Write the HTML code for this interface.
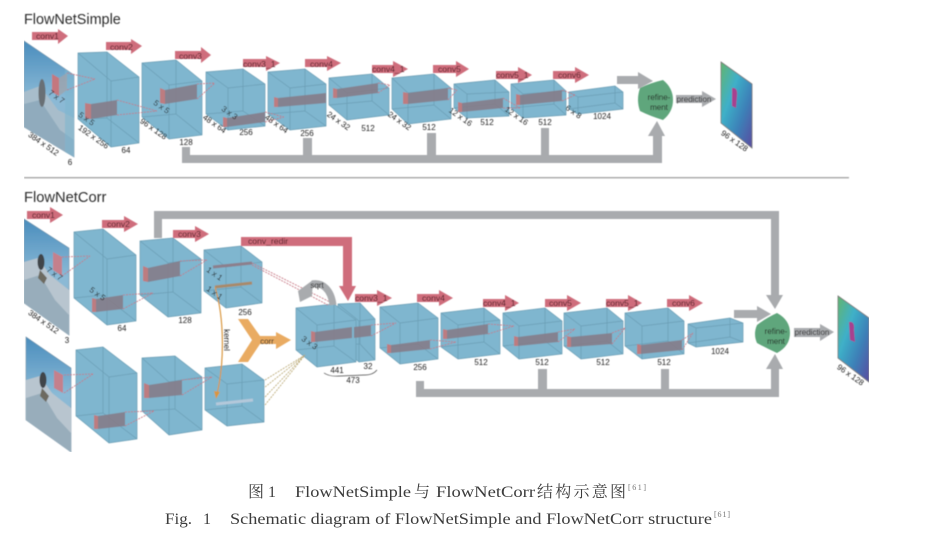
<!DOCTYPE html>
<html><head><meta charset="utf-8"><style>
html,body{margin:0;padding:0;background:#fff;width:925px;height:536px;overflow:hidden}
svg{display:block}
.c{fill:#7fb6cf;stroke:#6a9db4;stroke-width:.7}
.a{fill:#cf6d7c}
.g{fill:#a9abae}
.p{fill:#bd7b80}
.k{fill:#857c88;fill-opacity:.9}
.d{fill:none;stroke:#c4717e;stroke-width:.8;stroke-dasharray:2 1}
.t{fill:none;stroke:#b8a670;stroke-width:.8;stroke-dasharray:2 1}
text{font-family:"Liberation Sans",sans-serif}
.n text{font-size:8px;fill:#222;text-anchor:middle}
.ar text{font-size:8.6px;fill:#4f1c24}
.cap text{font-family:"Liberation Serif","Noto Serif CJK SC",serif;font-size:16px;fill:#3c3c3c}
.cap .s{font-size:8px;fill:#777}
</style></head><body>
<svg width="925" height="536" viewBox="0 0 925 536" xmlns="http://www.w3.org/2000/svg">
<defs>
<linearGradient id="sky" x1="0" y1="0" x2="0" y2="1"><stop offset="0" stop-color="#4a8dbd"/><stop offset=".5" stop-color="#8bbad6"/><stop offset="1" stop-color="#8fb2c9"/></linearGradient>
<linearGradient id="fl" x1="0" y1="0" x2="1" y2="1"><stop offset="0" stop-color="#62b56f"/><stop offset=".35" stop-color="#3fb0c8"/><stop offset=".65" stop-color="#3c82b8"/><stop offset="1" stop-color="#5a4ba0"/></linearGradient>
<filter id="b" x="0" y="0" width="100%" height="100%"><feGaussianBlur stdDeviation=".5"/></filter>
</defs>
<g filter="url(#b)">
<rect x="24" y="177" width="825" height="1.4" fill="#a8a8a8"/>

<path class="g" d="M182,147H190V155H303V138H312V155H427V133H436V155H541V128H549V155H653V136H648L657,121L665,136H662V163H182Z"/>
<path class="g" d="M617,76H638V72L653,81L638,89V84H617Z"/>
<path class="g" d="M676,95H702V91L716,99L702,107V103H676Z"/>
<path class="g" d="M154,238V211H779V295H783L775,309L766,295H771V219H162V238Z"/>
<path class="g" d="M416,381H424V389H538V369H547V389H661V369H669V389H771V369H766L775,354L783,369H779V397H416Z"/>
<path class="g" d="M734,310H757V306L771,314L757,322V318H734Z"/>
<path class="g" d="M794,328H820V324L834,332L820,341V337H794Z"/>

<!-- images -->
<path d="M24,41L74,75V157L24,127Z" fill="url(#sky)" stroke="#6f8fa5" stroke-width=".6"/>
<path d="M24,92L40,86L58,110L74,118V157L24,127Z" fill="#a8bdcb"/>
<path d="M24,104L40,100L60,130L74,140V157L24,127Z" fill="#90abbd"/>
<path d="M65,69L74,75V157L65,152Z" fill="#7fb6cf" fill-opacity=".6"/>
<ellipse cx="42" cy="93" rx="3.5" ry="14" fill="#697074"/>
<path d="M52,74L59,78V96L52,92Z" fill="#c4777e"/><path d="M59,78L67,73V90L59,96Z" fill="#9fa4ad" fill-opacity=".8"/>

<path d="M24,219L69,248V335L24,303Z" fill="url(#sky)" stroke="#6f8fa5" stroke-width=".6"/>
<path d="M24,262L38,258L50,275L69,290V335L24,303Z" fill="#b8c5cf"/>
<path d="M24,280L40,275L55,300L69,315V335L24,303Z" fill="#98adbb"/>
<ellipse cx="41" cy="262" rx="3.5" ry="8" fill="#40454a"/><path d="M40,270L47,278L44,284L38,278Z" fill="#6d6a60"/>
<path d="M53,252L62,257V276L53,270Z" fill="#c4808c"/>

<path d="M26,337L71,368V452L26,420Z" fill="url(#sky)" stroke="#6f8fa5" stroke-width=".6"/>
<path d="M26,380L40,376L52,393L71,408V452L26,420Z" fill="#b8c5cf"/>
<path d="M26,398L42,393L57,418L71,433V452L26,420Z" fill="#98adbb"/>
<ellipse cx="43" cy="380" rx="3.5" ry="8" fill="#40454a"/><path d="M42,388L49,396L46,402L40,396Z" fill="#6d6a60"/>
<path d="M54,370L63,375V393L54,388Z" fill="#c4808c"/>

<!-- cubes top -->
<path class="c" d="M78,53L107,52L139,77V143L111,147L78,119ZM78,53L111,81M111,81L139,77M111,81V147M107,52V118M107,118L78,119M107,118L139,143"/>
<path class="c" d="M142,63L176,60L202,81V135L169,139L142,117ZM142,63L169,85M169,85L202,81M169,85V139M176,60V114M176,114L142,117M176,114L202,135"/>
<path class="c" d="M206,72L243,69L265,84V126L228,130L206,114ZM206,72L228,88M228,88L265,84M228,88V130M243,69V111M243,111L206,114M243,111L265,126"/>
<path class="c" d="M268,72L305,69L326,84V126L290,130L268,114ZM268,72L290,88M290,88L326,84M290,88V130M305,69V111M305,111L268,114M305,111L326,126"/>
<path class="c" d="M329,78L372,74L389,88V115L347,120L329,105ZM329,78L347,93M347,93L389,88M347,93V120M372,74V101M372,101L329,105M372,101L389,115"/>
<path class="c" d="M392,78L434,74L451,88V119L408,124L392,109ZM392,78L408,93M408,93L451,88M408,93V124M434,74V105M434,105L392,109M434,105L451,119"/>
<path class="c" d="M454,84L495,80L509,92V116L467,118L454,108ZM454,84L467,94M467,94L509,92M467,94V118M495,80V104M495,104L454,108M495,104L509,116"/>
<path class="c" d="M511,84L554,80L566,91V115L523,118L511,108ZM511,84L523,94M523,94L566,91M523,94V118M554,80V104M554,104L511,108M554,104L566,115"/>
<path class="c" d="M569,92L615,86L623,92V109L578,114L569,109ZM569,92L578,97M578,97L623,92M578,97V114M615,86V103M615,103L569,109M615,103L623,109"/>

<!-- cubes bottom -->
<path class="c" d="M74,232L103,229L136,255V321L107,325L74,298ZM74,232L107,259M107,259L136,255M107,259V325M103,229V295M103,295L74,298M103,295L136,321"/>
<path class="c" d="M140,241L173,238L201,259V313L168,317L140,295ZM140,241L168,263M168,263L201,259M168,263V317M173,238V292M173,292L140,295M173,292L201,313"/>
<path class="c" d="M204,250L241,246L262,262V303L226,308L204,291ZM204,250L226,267M226,267L262,262M226,267V308M241,246V287M241,287L204,291M241,287L262,303"/>
<path class="c" d="M76,350L103,347L137,373V439L109,443L76,416ZM76,350L109,377M109,377L137,373M109,377V443M103,347V413M103,413L76,416M103,413L137,439"/>
<path class="c" d="M142,358L175,356L202,377V430L169,435L142,411ZM142,358L169,382M169,382L202,377M169,382V435M175,356V409M175,409L142,411M175,409L202,430"/>
<path class="c" d="M205,368L242,364L264,380V422L227,426L205,410ZM205,368L227,384M227,384L264,380M227,384V426M242,364V406M242,406L205,410M242,406L264,422"/>
<path class="c" d="M338,304L360,303L375,319V360L359,362L338,345ZM338,304L359,321M359,321L375,319M359,321V362M360,303V344M360,344L338,345M360,344L375,360"/>
<path class="c" d="M296,308L334,304L356,320V362L317,367L296,350ZM296,308L317,325M317,325L356,320M317,325V367M334,304V346M334,346L296,350M334,346L356,362"/>
<path class="c" d="M380,307L418,303L438,318V359L400,364L380,348ZM380,307L400,323M400,323L438,318M400,323V364M418,303V344M418,344L380,348M418,344L438,359"/>
<path class="c" d="M441,313L484,308L500,320V354L458,359L441,347ZM441,313L458,325M458,325L500,320M458,325V359M484,308V342M484,342L441,347M484,342L500,354"/>
<path class="c" d="M503,313L545,308L562,321V354L519,359L503,346ZM503,313L519,326M519,326L562,321M519,326V359M545,308V341M545,341L503,346M545,341L562,354"/>
<path class="c" d="M564,313L607,308L623,321V354L581,359L564,346ZM564,313L581,326M581,326L623,321M581,326V359M607,308V341M607,341L564,346M607,341L623,354"/>
<path class="c" d="M625,313L668,308L684,321V354L642,359L625,346ZM625,313L642,326M642,326L684,321M642,326V359M668,308V341M668,341L625,346M668,341L684,354"/>
<path class="c" d="M688,324L730,318L743,323V342L696,347L688,343ZM688,324L696,328M696,328L743,323M696,328V347M730,318V337M730,337L688,343M730,337L743,342"/>

<!-- inner boxes: top -->
<path class="p" d="M85,103L91,104V119L85,118Z"/><path class="k" d="M91,104L117,100V115L91,119Z"/>
<path class="p" d="M160,88L165,90V104L160,103Z"/><path class="k" d="M165,90L197,84V99L165,104Z"/>
<path class="p" d="M223,117L227,118V127L223,127Z"/><path class="k" d="M227,118L265,112V122L227,127Z"/>
<path class="p" d="M274,97L278,98V107L274,107Z"/><path class="k" d="M278,98L326,93V103L278,107Z"/>
<path class="p" d="M333,88L337,89V98L333,98Z"/><path class="k" d="M337,89L378,83V93L337,98Z"/>
<path class="p" d="M403,92L408,93V104L403,104Z"/><path class="k" d="M408,93L448,88V100L408,104Z"/>
<path class="p" d="M458,102L462,103V112L458,112Z"/><path class="k" d="M462,103L503,98V108L462,112Z"/>
<path class="p" d="M516,94L520,95V105L516,105Z"/><path class="k" d="M520,95L562,90V101L520,105Z"/>
<!-- inner boxes: bottom -->
<path class="p" d="M92,298L96,299V312L92,312Z"/><path class="k" d="M96,299L123,295V309L96,312Z"/>
<path class="p" d="M143,266L148,268V282L143,281Z"/><path class="k" d="M148,268L180,261V276L148,282Z"/>
<path d="M213,267L252,263" stroke="#8c7f8c" stroke-width="3"/>
<path d="M215,287L252,283" stroke="#a88a6a" stroke-width="3"/>
<path class="p" d="M94,415L98,416V429L94,429Z"/><path class="k" d="M98,416L125,412V426L98,429Z"/>
<path class="p" d="M144,383L149,385V398L144,398Z"/><path class="k" d="M149,385L182,380V395L149,398Z"/>
<path d="M216,404L253,400" stroke="#b4c8da" stroke-width="3"/>
<path class="p" d="M311,331L315,332V342L311,342Z"/><path class="k" d="M315,332L352,327V338L315,342Z"/>
<path class="k" d="M354,327L371,325V336L354,338Z"/>
<path class="p" d="M387,344L391,345V353L387,353Z"/><path class="k" d="M391,345L430,340V349L391,353Z"/>
<path class="p" d="M443,329L447,330V339L443,339Z"/><path class="k" d="M447,330L488,324V334L447,339Z"/>
<path class="p" d="M514,336L518,337V346L514,346Z"/><path class="k" d="M518,337L558,332V342L518,346Z"/>
<path class="p" d="M567,336L571,337V347L567,347Z"/><path class="k" d="M571,337L612,333V344L571,347Z"/>
<path class="p" d="M637,344L641,345V354L637,354Z"/><path class="k" d="M641,345L682,340V350L641,354Z"/>

<!-- dashed -->
<path class="d" d="M67,73L95,79M67,90L95,79M117,100L157,111M117,115L157,111M197,84L215,83M197,99L215,83M265,112L284,117M265,122L284,117M378,83L390,85M378,93L390,85M448,88L457,90M448,100L457,90M503,98L520,108M503,108L520,108M562,90L575,95M562,101L575,95"/>
<path class="d" d="M62,257L90,256M62,276L90,256M123,295L153,293M123,309L153,293M180,261L207,260M180,276L207,260M64,375L93,374M64,393L93,374M125,412L154,411M125,426L154,411M182,380L212,377M182,395L212,377M252,263L330,302M252,265L328,305M371,325L396,323M371,336L396,323M430,340L456,342M430,349L456,342M488,324L514,326M488,334L514,326M558,332L575,329M558,342L575,329M612,333L625,328M612,344L625,328M682,340L693,333M682,350L693,333"/>
<path class="t" d="M265,380L305,355M265,387L305,355M265,397L305,355M265,405L305,355"/>

<path d="M215,287C225,320 224,365 217,394" fill="none" stroke="#d9973f" stroke-width="1.2"/>
<path d="M214,391L220,392L216,399Z" fill="#d9973f"/>
<path d="M238,319H248L260,336H276V332L291,340L276,349V344H260L248,362H238L252,340Z" fill="#e9ab62"/>

<path d="M333,305C331,289 322,282 312,284" fill="none" stroke="#a9abae" stroke-width="7"/>
<path d="M298,291L313,280L312,296L300,302Z" class="g"/>

<path class="a" d="M241,237H352V286H356L348,301L339,286H343V246H241Z"/>

<path d="M640,88Q650,83 663,80Q673,88 673,100Q673,112 663,120Q650,116 640,111Q636,100 640,88Z" fill="#5fa67b"/>
<path d="M757,325Q766,318 777,313Q790,320 790,333Q790,346 777,353Q766,348 757,343Q753,334 757,325Z" fill="#5fa67b"/>

<path d="M721,62L752,84V148L721,123Z" fill="url(#fl)" stroke="#777" stroke-width=".8"/>
<path d="M732,88Q738,87 737,96L736,108L732,106Z" fill="#a8408f"/>
<path d="M838,296L869,318V382L838,358Z" fill="url(#fl)" stroke="#777" stroke-width=".8"/>
<path d="M849,322Q855,321 854,330L855,342L850,340Z" fill="#a8408f"/>

<g class="ar">
<path class="a" d="M32,32H58V29L68,36L58,44V40H32Z"/><text x="36" y="39">conv1</text>
<path class="a" d="M106,42H131V39L142,46L131,54V50H106Z"/><text x="110" y="50">conv2</text>
<path class="a" d="M175,51H201V47L211,55L201,63V59H175Z"/><text x="179" y="59">conv3</text>
<path class="a" d="M243,59H266V56L280,63L266,71V67H243Z"/><text x="243" y="67">conv3_1</text>
<path class="a" d="M305,59H327V56L341,63L327,71V67H305Z"/><text x="310" y="67">conv4</text>
<path class="a" d="M372,65H393V61L408,69L393,77V73H372Z"/><text x="372" y="72">conv4_1</text>
<path class="a" d="M433,65H456V61L469,69L456,77V73H433Z"/><text x="438" y="72">conv5</text>
<path class="a" d="M496,71H518V67L532,75L518,83V79H496Z"/><text x="496" y="78">conv5_1</text>
<path class="a" d="M553,71H575V67L589,75L575,83V79H553Z"/><text x="558" y="78">conv6</text>

<path class="a" d="M27,211H50V207L63,215L50,223V219H27Z"/><text x="32" y="218">conv1</text>
<path class="a" d="M102,220H124V216L138,224L124,232V228H102Z"/><text x="107" y="227">conv2</text>
<path class="a" d="M173,230H195V226L209,234L195,242V238H173Z"/><text x="178" y="237">conv3</text>
<path class="a" d="M355,294H377V290L392,298L377,306V302H355Z"/><text x="355" y="301">conv3_1</text>
<path class="a" d="M417,294H439V290L453,298L439,306V302H417Z"/><text x="422" y="301">conv4</text>
<path class="a" d="M483,299H505V295L519,303L505,311V307H483Z"/><text x="483" y="306">conv4_1</text>
<path class="a" d="M545,299H567V295L581,303L567,311V307H545Z"/><text x="549" y="306">conv5</text>
<path class="a" d="M606,299H628V295L642,303L628,311V307H606Z"/><text x="606" y="306">conv5_1</text>
<path class="a" d="M667,299H689V295L703,303L689,311V307H667Z"/><text x="672" y="306">conv6</text>
<text x="248" y="244">conv_redir</text>
</g>

<path d="M324,373Q330,377 340,376L365,375Q373,375 377,370" fill="none" stroke="#444" stroke-width=".7"/>

<text x="24" y="24" font-size="14.4" fill="#2c2c2c">FlowNetSimple</text>
<text x="24" y="202" font-size="14.7" fill="#2c2c2c">FlowNetCorr</text>

<g class="n">
<text transform="translate(42,146) rotate(35)">384 x 512</text>
<text x="70" y="165">6</text>
<text transform="translate(55,99) rotate(35)">7 x 7</text>
<text transform="translate(85,121) rotate(35)">5 x 5</text>
<text transform="translate(92,139) rotate(35)">192 x 256</text>
<text x="126" y="153">64</text>
<text transform="translate(160,109) rotate(35)">5 x 5</text>
<text transform="translate(152,131) rotate(35)">96 x 128</text>
<text x="186" y="145">128</text>
<text transform="translate(228,115) rotate(35)">3 x 3</text>
<text transform="translate(213,126) rotate(35)">48 x 64</text>
<text x="246" y="135">256</text>
<text transform="translate(275,126) rotate(35)">48 x 64</text>
<text x="307" y="136">256</text>
<text transform="translate(337,123) rotate(35)">24 x 32</text>
<text x="368" y="131">512</text>
<text transform="translate(398,123) rotate(35)">24 x 32</text>
<text x="429" y="130">512</text>
<text transform="translate(459,119) rotate(35)">12 x 16</text>
<text x="487" y="125">512</text>
<text transform="translate(515,118) rotate(35)">12 x 16</text>
<text x="545" y="125">512</text>
<text transform="translate(572,114) rotate(35)">6 x 8</text>
<text x="602" y="119">1024</text>
<text x="659" y="100">refine-</text>
<text x="659" y="110">ment</text>
<text x="694" y="102">prediction</text>
<text transform="translate(733,143) rotate(35)">96 x 128</text>

<text transform="translate(53,276) rotate(35)">7 x 7</text>
<text transform="translate(42,324) rotate(35)">384 x 512</text>
<text x="67" y="343">3</text>
<text transform="translate(96,296) rotate(35)">5 x 5</text>
<text x="122" y="331">64</text>
<text x="185" y="323">128</text>
<text transform="translate(213,276) rotate(35)">1 x 1</text>
<text transform="translate(213,295) rotate(35)">1 x 1</text>
<text x="245" y="315">256</text>
<text transform="translate(224,340) rotate(90)">kernel</text>
<text x="267" y="344">corr</text>
<text x="317" y="288">sqrt</text>
<text transform="translate(308,345) rotate(35)">3 x 3</text>
<text x="337" y="373">441</text>
<text x="368" y="369">32</text>
<text x="353" y="383">473</text>
<text x="420" y="370">256</text>
<text x="481" y="365">512</text>
<text x="542" y="365">512</text>
<text x="603" y="365">512</text>
<text x="664" y="365">512</text>
<text x="720" y="354">1024</text>
<text x="776" y="334">refine-</text>
<text x="776" y="344">ment</text>
<text x="812" y="335">prediction</text>
<text transform="translate(849,377) rotate(35)">96 x 128</text>
</g>
</g>

<g class="cap">
<text x="248" y="497">图</text>
<text x="268" y="497">1</text>
<text x="295" y="497" textLength="116" lengthAdjust="spacingAndGlyphs">FlowNetSimple</text>
<text x="414" y="497">与</text>
<text x="436" y="497" textLength="99" lengthAdjust="spacingAndGlyphs">FlowNetCorr</text>
<text x="537" y="497" textLength="89" lengthAdjust="spacing">结构示意图</text>
<text class="s" x="628" y="490" textLength="18">[61]</text>
<text x="165" y="524" textLength="27" lengthAdjust="spacingAndGlyphs">Fig.</text>
<text x="203" y="524">1</text>
<text x="230" y="524" textLength="482" lengthAdjust="spacingAndGlyphs">Schematic diagram of FlowNetSimple and FlowNetCorr structure</text>
<text class="s" x="714" y="517" textLength="16">[61]</text>
</g>
</svg>
</body></html>
